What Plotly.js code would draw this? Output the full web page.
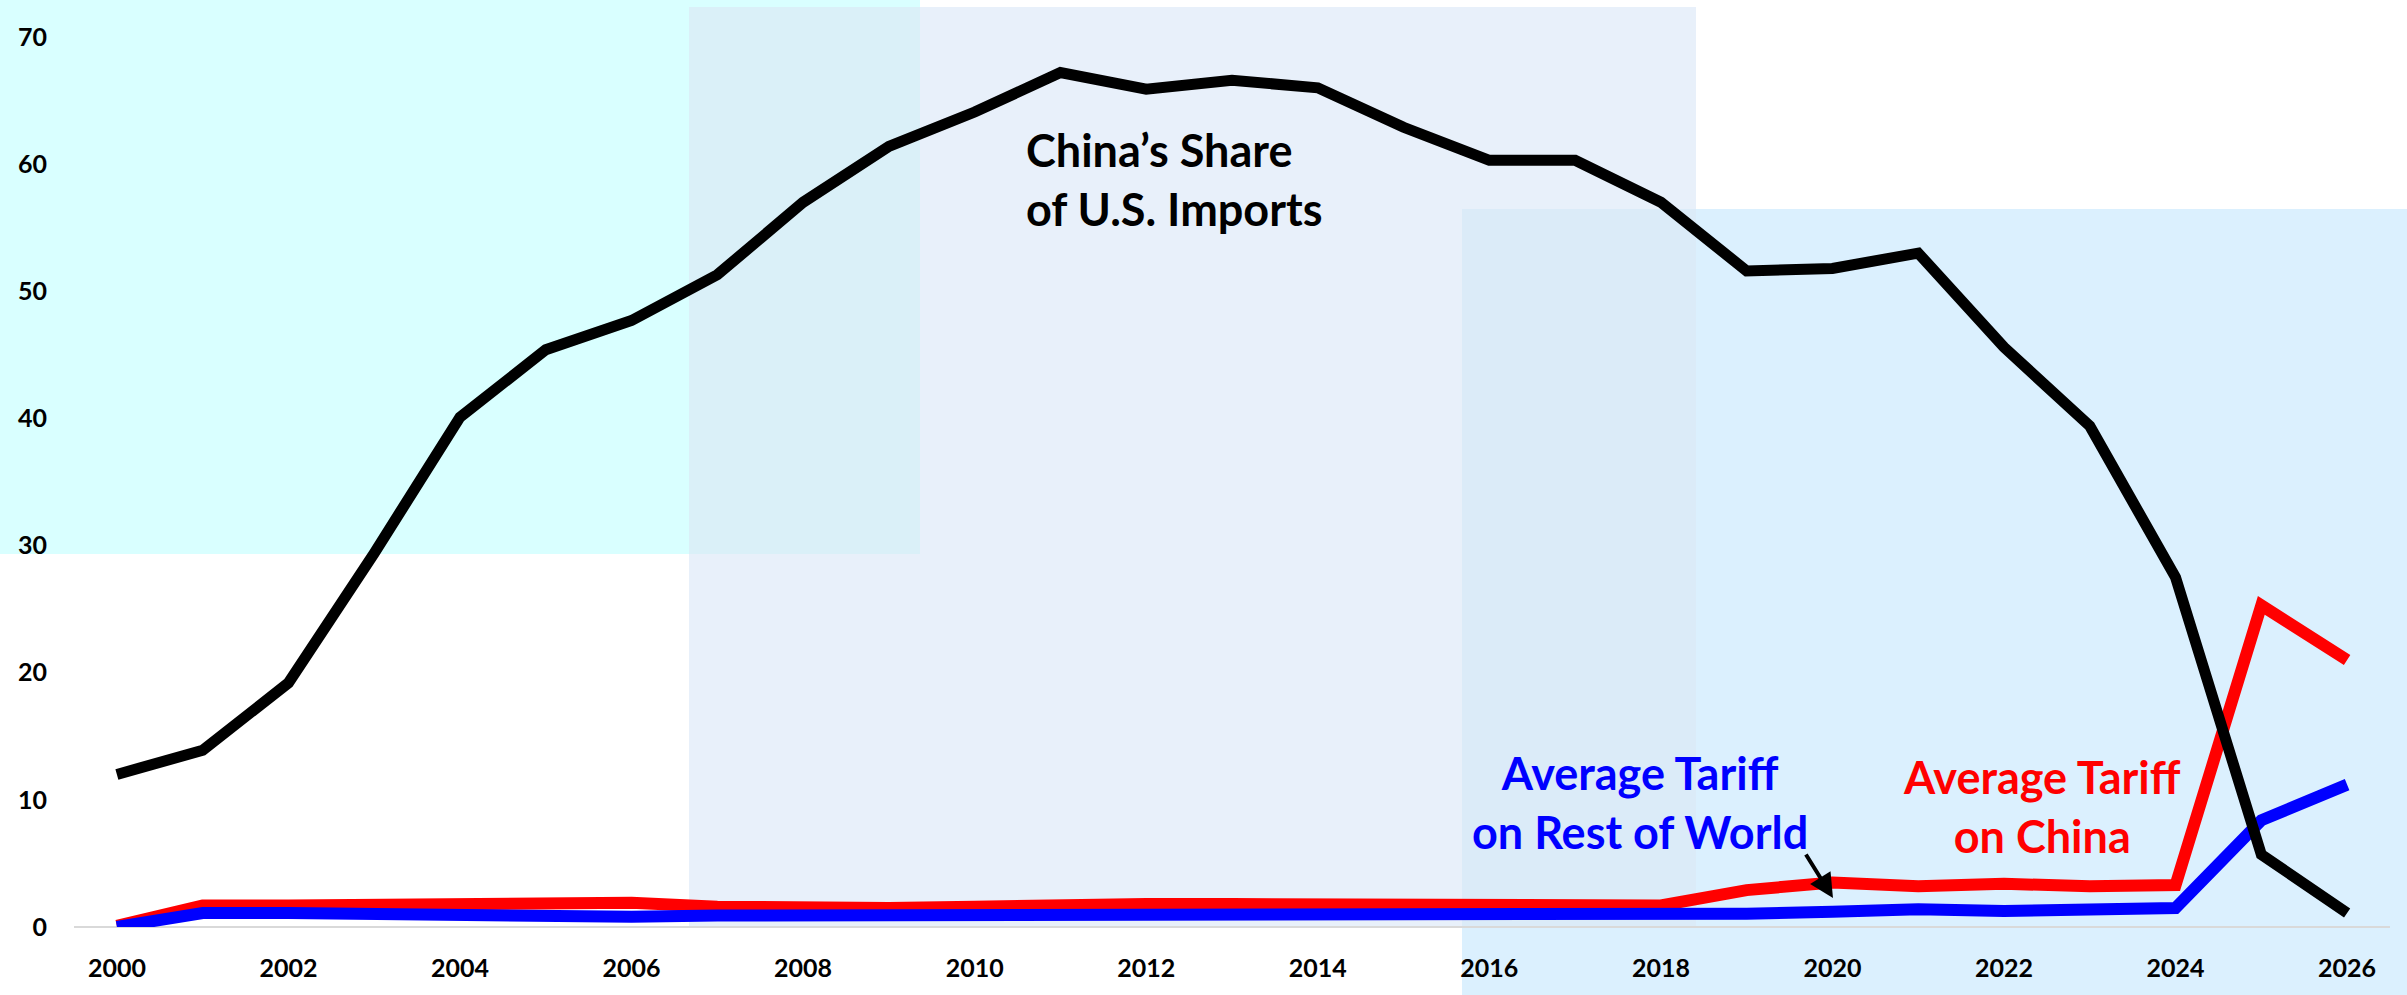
<!DOCTYPE html>
<html>
<head>
<meta charset="utf-8">
<script src="https://cdn.plot.ly/plotly-3.0.1.min.js"></script>
<style>html,body{margin:0;padding:0;background:#fff;}#chart{width:2407px;height:995px;}</style>
</head>
<body>
<div id="chart"></div>
<script>
// ---- data ----
const years = [2000,2001,2002,2003,2004,2005,2006,2007,2008,2009,2010,2011,2012,2013,2014,2015,2016,2017,2018,2019,2020,2021,2022,2023,2024,2025,2026];
const chinaShare = [12.0,13.9,19.2,29.4,40.1,45.4,47.7,51.3,57.0,61.4,64.1,67.2,65.9,66.6,66.0,62.9,60.3,60.3,57.0,51.6,51.8,53.0,45.6,39.4,27.5,5.7,1.1];
const tariffChina = [0.1,1.7,1.7,1.8,1.8,1.9,1.9,1.6,1.5,1.5,1.6,1.8,1.8,1.8,1.8,1.7,1.7,1.6,1.7,2.9,3.5,3.2,3.4,3.2,3.3,25.3,21.0];
const tariffRoW = [0.0,1.1,1.1,1.0,0.95,0.85,0.8,0.9,0.9,0.95,0.95,0.95,0.95,0.95,0.95,1.0,1.05,1.05,0.95,1.05,1.2,1.4,1.25,1.35,1.5,8.4,11.2];
const xTickVals = [2000,2002,2004,2006,2008,2010,2012,2014,2016,2018,2020,2022,2024,2026];
const xTickText = ['2000','2002','2004','2006','2008','2010','2012','2014','2016','2018','2020','2022','2024','2026'];
const yTickVals = [0,10,20,30,40,50,60,70];
const yTickText = ['0','10','20','30','40','50','60','70'];

// ---- layout geometry ----
const W = 2407, H = 995;
const M = {l:74, r:17, t:37, b:68};
const PW = W - M.l - M.r, PH = H - M.t - M.b;
const px = x => (x - M.l) / PW;
const py = y => (H - M.b - y) / PH;
function rect(x0, y0, x1, y1, color){
  return {type:'rect', xref:'paper', yref:'paper', layer:'below',
    x0:px(x0), x1:px(x1), y0:py(y1), y1:py(y0),
    fillcolor:color, line:{width:0}};
}

const traces = [
  {x:years, y:tariffChina, type:'scatter', mode:'lines', line:{color:'#FF0000', width:12}, hoverinfo:'skip'},
  {x:years, y:tariffRoW, type:'scatter', mode:'lines', line:{color:'#0000FF', width:12}, hoverinfo:'skip'},
  {x:years, y:chinaShare, type:'scatter', mode:'lines', line:{color:'#000000', width:11}, hoverinfo:'skip'}
];

const annFont = {family:'Lato', size:45, weight:700};
const layout = {
  width:W, height:H,
  margin:M,
  paper_bgcolor:'#FFFFFF',
  plot_bgcolor:'rgba(0,0,0,0)',
  showlegend:false,
  xaxis:{range:[1999.5,2026.5], tickmode:'array', tickvals:xTickVals, ticktext:xTickText,
    showgrid:false, zeroline:false, showline:false, ticks:'',
    ticklabelstandoff:24,
    tickfont:{family:'Lato', size:25, weight:700, color:'#000'}},
  yaxis:{range:[0,70], tickmode:'array', tickvals:yTickVals, ticktext:yTickText,
    showgrid:false, zeroline:true, zerolinecolor:'#D9D9D9', zerolinewidth:2, showline:false, ticks:'',
    ticklabelstandoff:26,
    tickfont:{family:'Lato', size:25, weight:700, color:'#000'}},
  shapes:[
    rect(0,0,920,554,'#D9FFFF'),
    rect(689,7,1696,927,'#E8F0FA'),
    rect(689,7,920,554,'#DAF0F8'),
    rect(1462,209,2407,995,'#DBF0FE'),
    rect(1462,209,1696,927,'#DBEBF8')
  ],
  annotations:[
    {xref:'paper', yref:'paper', x:px(1024), y:py(180), xanchor:'left', yanchor:'middle', align:'left',
     text:'China\u2019s Share<br>of U.S. Imports', showarrow:false, font:Object.assign({color:'#000000'}, annFont)},
    {xref:'paper', yref:'paper', x:px(1640), y:py(802), xanchor:'center', yanchor:'middle', align:'center',
     text:'Average Tariff<br>on Rest of World', showarrow:false, font:Object.assign({color:'#0000FF'}, annFont)},
    {xref:'paper', yref:'paper', x:px(2042), y:py(806), xanchor:'center', yanchor:'middle', align:'center',
     text:'Average Tariff<br>on China', showarrow:false, font:Object.assign({color:'#FF0000'}, annFont)},
    {xref:'paper', yref:'paper', x:px(1833), y:py(898), text:'', showarrow:true,
     arrowhead:2, arrowsize:1.2, arrowwidth:4, arrowcolor:'#000000', ax:-28, ay:-45, standoff:0}
  ]
};

Plotly.newPlot('chart', traces, layout, {staticPlot:true, displayModeBar:false});
</script>
</body>
</html>
